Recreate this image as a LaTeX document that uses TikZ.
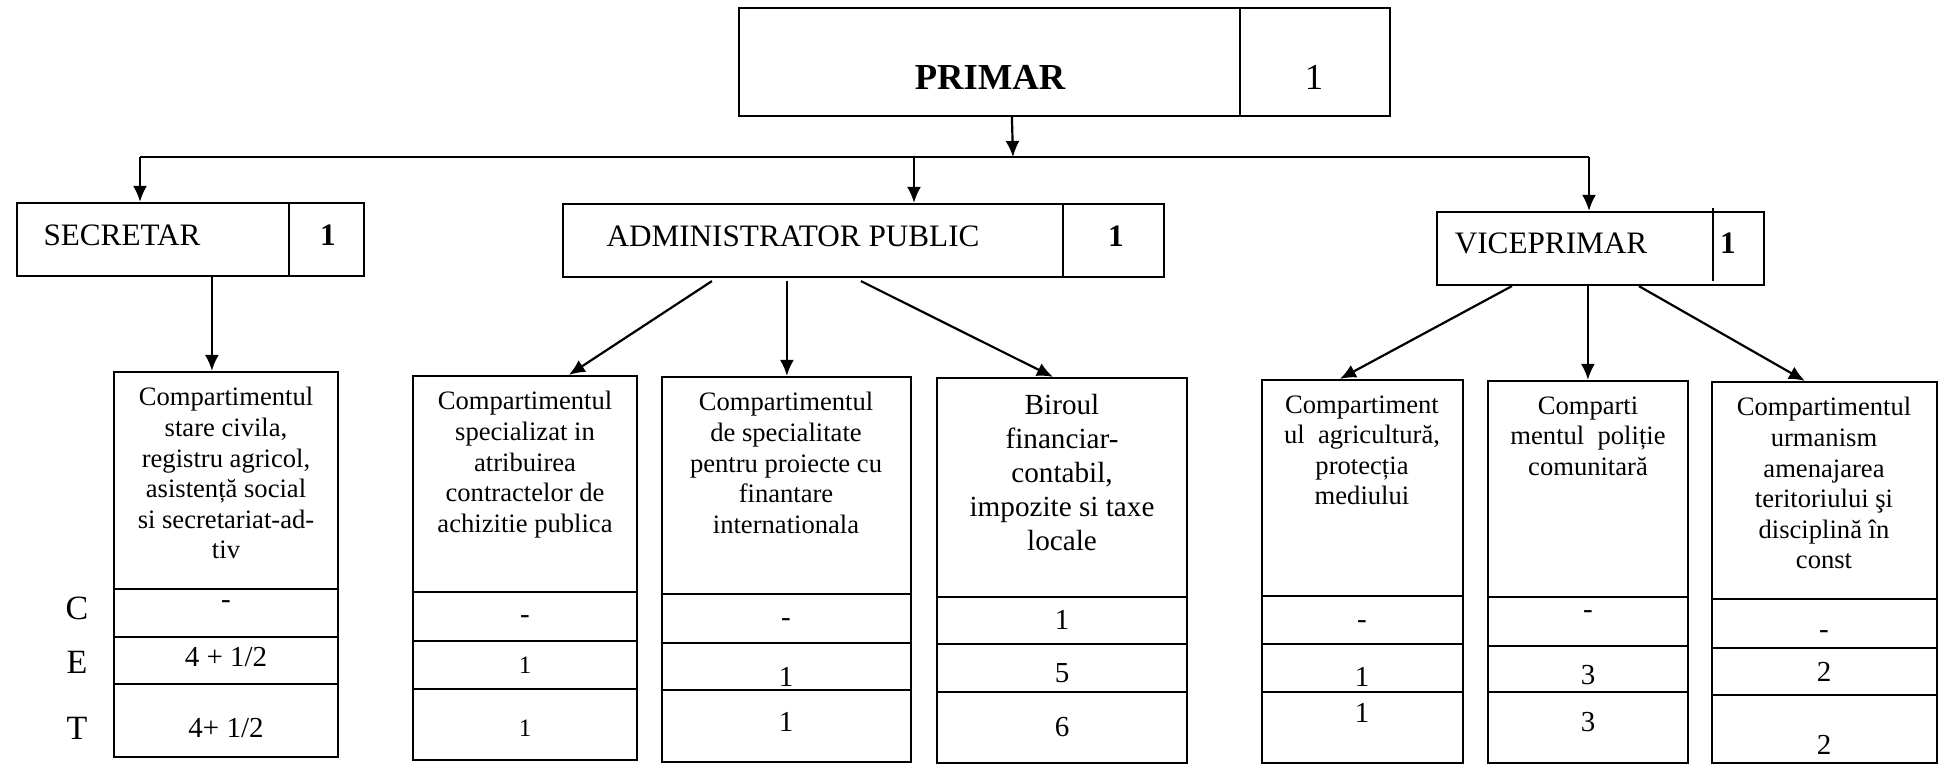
\documentclass[tikz,border=0pt]{standalone}
\usepackage{fontspec}
\setmainfont{Liberation Serif}
\usetikzlibrary{arrows.meta,fit,calc}
\begin{document}
\begin{tikzpicture}[x=0.5pt,y=-0.5pt,
  box/.style={draw, line width=1.1pt, inner sep=0pt},
  arr/.style={line width=1.1pt, -{Latex[length=8pt,width=7pt]}},
  ln/.style={line width=1.1pt},
  head/.style={font=\fontsize{15.6}{18}\selectfont, inner sep=0pt},
  headb/.style={font=\bfseries\fontsize{15.6}{18}\selectfont, inner sep=0pt},
  txt/.style={font=\fontsize{13.3}{15.3}\selectfont, align=center, anchor=north, inner sep=0pt},
  txtbig/.style={font=\fontsize{14.6}{17}\selectfont, align=center, anchor=north, inner sep=0pt},
  num/.style={font=\fontsize{14.5}{16}\selectfont, inner sep=0pt},
  numsm/.style={font=\fontsize{12.5}{14}\selectfont, inner sep=0pt},
  lbl/.style={font=\fontsize{17}{19}\selectfont, inner sep=0pt}]

\useasboundingbox (0,0) rectangle (1942,765);

% ---------- top level ----------
\node[box, fit={(739,8) (1390,116)}] (prim) {};
\draw[ln] (prim.north -| 1240,0) -- (prim.south -| 1240,0);
\node[font=\bfseries\fontsize{18.3}{20}\selectfont, inner sep=0pt] (primt) at (990,77) {PRIMAR};
\node[font=\fontsize{18.3}{20}\selectfont, inner sep=0pt] (primn) at (1314,77) {1};

\coordinate (hl) at (140,157);
\coordinate (hm) at (1013,157);
\coordinate (ha) at (914,157);
\coordinate (hr) at (1589,157);
\draw[ln] (hl) -- (hr);
\draw[arr] ($(prim.south west)+(274,0)$) -- (hm);

% ---------- second level ----------
\node[box, fit={(17,203) (364,276)}] (sec) {};
\draw[ln] (sec.north -| 289,0) -- (sec.south -| 289,0);
\node[head] (sect) at (122,235) {SECRETAR};
\node[headb] (secn) at (328,235) {1};

\node[box, fit={(563,204) (1164,277)}] (adm) {};
\draw[ln] (adm.north -| 1063,0) -- (adm.south -| 1063,0);
\node[head] (admt) at (793,236) {ADMINISTRATOR PUBLIC};
\node[headb] (admn) at (1116,236) {1};

\node[box, fit={(1437,212) (1764,285)}] (vic) {};
\draw[ln] (1713,208) -- (1713,281);
\node[head] (vict) at (1551,243) {VICEPRIMAR};
\node[headb] (vicn) at (1728,243) {1};

\draw[arr] (hl) -- (sec.north -| hl);
\draw[arr] (ha) -- (adm.north -| ha);
\draw[arr] (hr) -- (vic.north -| hr);

% ---------- bottom boxes ----------
\node[box, fit={(114,372) (338,757)}] (b1) {};
\node[box, fit={(413,376) (637,760)}] (b2) {};
\node[box, fit={(662,377) (911,762)}] (b3) {};
\node[box, fit={(937,378) (1187,763)}] (b4) {};
\node[box, fit={(1262,380) (1463,763)}] (b5) {};
\node[box, fit={(1488,381) (1688,763)}] (b6) {};
\node[box, fit={(1712,382) (1937,763)}] (b7) {};

% separators
\foreach \b/\s/\t/\u in {b1/589/637/684, b2/592/641/689, b3/594/643/690,
  b4/597/644/692, b5/596/644/692, b6/597/646/692, b7/599/648/695}{
  \draw[ln] (\b.west |- 0,\s) -- (\b.east |- 0,\s);
  \draw[ln] (\b.west |- 0,\t) -- (\b.east |- 0,\t);
  \draw[ln] (\b.west |- 0,\u) -- (\b.east |- 0,\u);
}

% arrows to bottom boxes
\draw[arr] ($(sec.south west)+(196,0)$) -- ($(b1.north west)+(99,0)$);
\draw[arr] ($(adm.south west)+(150,3)$) -- ($(b2.north west)+(157,0)$);
\draw[arr] ($(adm.south west)+(225,3)$) -- ($(b3.north west)+(126,0)$);
\draw[arr] ($(adm.south west)+(299,3)$) -- ($(b4.north west)+(117,0)$);
\draw[arr] ($(vic.south west)+(76,0)$) -- ($(b5.north west)+(79,0)$);
\draw[arr] ($(vic.south west)+(152,0)$) -- ($(b6.north west)+(101,0)$);
\draw[arr] ($(vic.south west)+(203,0)$) -- ($(b7.north west)+(94,0)$);

% box titles
\node[txt] (t1) at (226,387) {Compartimentul\\stare civila,\\registru agricol,\\asistență social\\si secretariat-ad-\\tiv};
\node[txt] (t2) at (525,391) {Compartimentul\\specializat in\\atribuirea\\contractelor de\\achizitie publica};
\node[txt] (t3) at (786,392) {Compartimentul\\de specialitate\\pentru proiecte cu\\finantare\\internationala};
\node[txtbig] (t4) at (1062,394) {Biroul\\financiar-\\contabil,\\impozite si taxe\\locale};
\node[txt] (t5) at (1362,395) {Compartiment\\ul\ \ agricultură,\\protecția\\mediului};
\node[txt] (t6) at (1588,396) {Comparti\\mentul\ \ poliție\\comunitară};
\node[txt] (t7) at (1824,397) {Compartimentul\\urmanism\\amenajarea\\teritoriului şi\\disciplină în\\const};

% row labels
\node[lbl] (lc) at (77,608) {C};
\node[lbl] (le) at (77,662) {E};
\node[lbl] (lt) at (77,728) {T};

% numbers
\node[num] (n1c) at (226,605) {-};
\node[num] (n1e) at (226,657) {4 + 1/2};
\node[num] (n1t) at (226,728) {4+ 1/2};

\node[num] (n2c) at (525,620) {-};
\node[numsm] (n2e) at (525,665) {1};
\node[numsm] (n2t) at (525,728) {1};

\node[num] (n3c) at (786,623) {-};
\node[num] (n3e) at (786,677) {1};
\node[num] (n3t) at (786,722) {1};

\node[num] (n4c) at (1062,620) {1};
\node[num] (n4e) at (1062,673) {5};
\node[num] (n4t) at (1062,727) {6};

\node[num] (n5c) at (1362,625) {-};
\node[num] (n5e) at (1362,677) {1};
\node[num] (n5t) at (1362,713) {1};

\node[num] (n6c) at (1588,615) {-};
\node[num] (n6e) at (1588,675) {3};
\node[num] (n6t) at (1588,722) {3};

\node[num] (n7c) at (1824,635) {-};
\node[num] (n7e) at (1824,672) {2};
\node[num] (n7t) at (1824,745) {2};
\end{tikzpicture}
\end{document}
